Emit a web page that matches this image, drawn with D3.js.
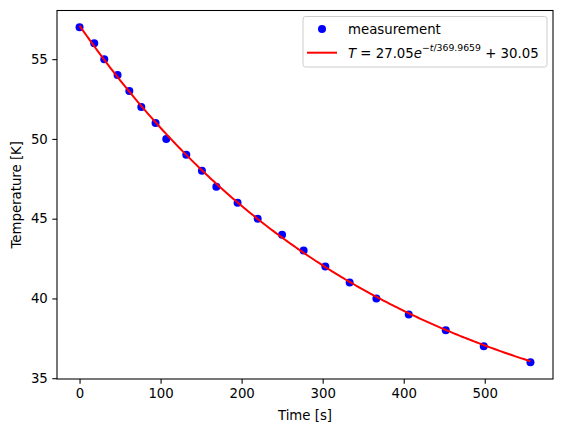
<!DOCTYPE html>
<html>
<head>
<meta charset="utf-8">
<script src="https://cdn.jsdelivr.net/npm/d3@7"></script>
<style>
body { margin: 0; background: #fff; }
text { font-family: "DejaVu Sans", sans-serif; }
</style>
</head>
<body>
<svg id="chart"></svg>
<script>
// measured points
var times = [0, 18.1, 30.5, 46.9, 61.4, 76.2, 93.8, 107, 131.7, 151, 168.8, 195, 219.8, 249.9, 276.5, 303.3, 333.3, 366.3, 406.2, 451.9, 498.8, 556.4]
var temps = [57, 56, 55, 54, 53, 52, 51, 50, 49, 48, 47, 46, 45, 44, 43, 42, 41, 40, 39, 38, 37, 36]

// fit parameters
var fitA = 27.05
var fitTau = 369.9659
var fitC = 30.05

var xTicks = [0, 100, 200, 300, 400, 500]
var yTicks = [35, 40, 45, 50, 55]

var W = 562, H = 432
var margins = {"top": 10.5, "left": 57, "bottom": 53, "right": 9}
var width = W - margins.left - margins.right
var height = H - margins.top - margins.bottom
var fs = "13.3px"

var svg = d3.select("#chart").attr("width", W).attr("height", H)
var g = svg.append("g").attr("transform", "translate(" + margins.left + "," + margins.top + ")")

//matplotlib style 5% padding
var pad = function(ext){
  var r = ext[1] - ext[0]
  return [ext[0] - r*0.05, ext[1] + r*0.05]
}

var x = d3.scaleLinear().domain(pad(d3.extent(times))).range([0, width])
var y = d3.scaleLinear().domain(pad(d3.extent(temps))).range([height, 0])

g.append("g").attr("transform", "translate(0," + height + ")")
  .call(d3.axisBottom(x).tickValues(xTicks).tickSize(4.7).tickPadding(4.5))
g.append("g")
  .call(d3.axisLeft(y).tickValues(yTicks).tickSize(4.7).tickPadding(4.5))

svg.selectAll(".tick text").style("font-size", fs).attr("fill", "#000")
svg.selectAll(".tick line").attr("stroke", "#000").attr("stroke-width", 1.07)
svg.selectAll(".domain").remove()

// fit curve
var maxT = d3.max(times)
var curveT = d3.range(0, 201).map(function(i){ return maxT * i / 200 })
var line = d3.line()
  .x(function(t){ return x(t) })
  .y(function(t){ return y(fitA * Math.exp(-t / fitTau) + fitC) })

g.append("path").datum(curveT)
  .attr("d", line)
  .attr("fill", "none")
  .attr("stroke", "red")
  .attr("stroke-width", 2)

// points go under the line
g.selectAll(".pt")
  .data(times)
  .enter().insert("circle", "path")
  .attr("class", "pt")
  .attr("cx", function(d){ return x(d) })
  .attr("cy", function(d, i){ return y(temps[i]) })
  .attr("r", 4)
  .attr("fill", "blue")

// frame
g.append("rect").attr("width", width).attr("height", height)
  .attr("fill", "none").attr("stroke", "#000").attr("stroke-width", 1.07)

// axis labels
svg.append("text").attr("x", margins.left + width/2).attr("y", 420)
  .attr("text-anchor", "middle").style("font-size", fs).text("Time [s]")
svg.append("text").attr("transform", "translate(21," + (margins.top + height/2) + ") rotate(-90)")
  .attr("text-anchor", "middle").style("font-size", fs).text("Temperature [K]")

// legend
var leg = svg.append("g")
leg.append("rect").attr("x", 303).attr("y", 16.5).attr("width", 244).attr("height", 50.5)
  .attr("rx", 2.5).attr("fill", "#fff").attr("fill-opacity", 0.8)
  .attr("stroke", "#ccc").attr("stroke-width", 1)
leg.append("circle").attr("cx", 322).attr("cy", 29).attr("r", 4).attr("fill", "blue")
leg.append("text").attr("x", 348).attr("y", 34).style("font-size", fs).text("measurement")
leg.append("line").attr("x1", 307).attr("x2", 337).attr("y1", 52.7).attr("y2", 52.7)
  .attr("stroke", "red").attr("stroke-width", 2)

var ft = leg.append("text").attr("x", 348).attr("y", 57.5).style("font-size", fs)
ft.append("tspan").style("font-style", "italic").text("T")
ft.append("tspan").text(" = " + fitA)
ft.append("tspan").style("font-style", "italic").text("e")
ft.append("tspan").attr("dy", -6.5).style("font-size", "9.3px").text("\u2212")
ft.append("tspan").style("font-size", "9.3px").style("font-style", "italic").text("t")
ft.append("tspan").style("font-size", "9.3px").text("/" + fitTau)
ft.append("tspan").attr("dy", 6.5).text(" + " + fitC)
</script>
</body>
</html>
